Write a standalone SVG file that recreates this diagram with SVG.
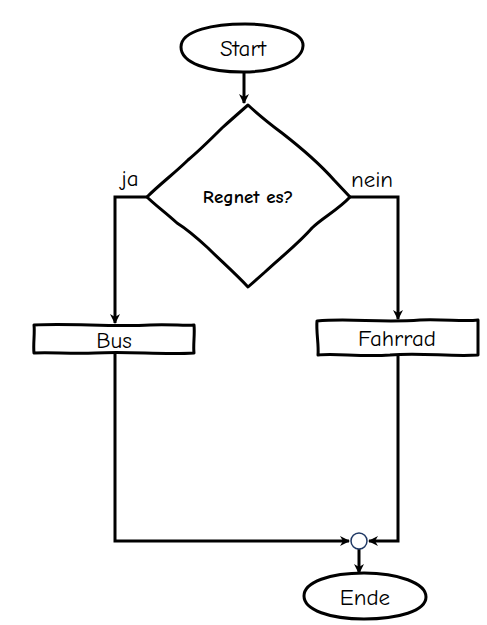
<svg xmlns="http://www.w3.org/2000/svg" width="487" height="625" viewBox="0 0 487 625">
<style>
.shape{fill:#fff;stroke:#000;stroke-width:3;stroke-linejoin:round}
.conn{fill:none;stroke:#000;stroke-width:3}
.t{font-family:"Comic Sans MS","Comic Neue","Liberation Sans",sans-serif;font-size:23px;fill:#000;text-anchor:middle}
.b{font-weight:bold;font-size:19px}
</style>
<defs>
<marker id="ah" markerWidth="10" markerHeight="10" refX="9" refY="5" orient="auto" markerUnits="userSpaceOnUse">
<path d="M0,0 L10,5 L0,10 L3,5 z" fill="#000"/>
</marker>
</defs>
<rect width="487" height="625" fill="#fff"/>
<g id="connectors">
<path class="conn" d="M244,73 L244,103" marker-end="url(#ah)"/>
<path class="conn" d="M147,197 L115,197 L115,323" marker-end="url(#ah)"/>
<path class="conn" d="M350,197 L398,197 L398,319" marker-end="url(#ah)"/>
<path class="conn" d="M115,354 L115,541 L349,541" marker-end="url(#ah)"/>
<path class="conn" d="M398,355 L398,541 L369,541" marker-end="url(#ah)"/>
<path class="conn" d="M359,549 L359,573" marker-end="url(#ah)"/>
</g>
<g id="start">
<path class="shape" d="M181,47 C181,30 215,24 245,24 C278,24 304,33 303,46 C302,61 276,72 243,72 C208,72 181,63 181,47 z"/>
<text class="t" x="243" y="56">Start</text>
</g>
<g id="decision">
<path class="shape" d="M248,105 C262,118 270,124 282,133 C300,147 318,162 334,180 L350,197 C338,210 322,218 312,228 C298,244 280,258 265,272 L248,287 C235,273 220,260 208,248 C195,236 185,228 177,223 C165,212 155,205 147,197 C160,184 176,172 188,160 C200,150 210,140 222,128 C232,119 240,112 248,105 z"/>
<text class="t b" x="248" y="203">Regnet es?</text>
</g>
<text class="t" x="130" y="186">ja</text>
<text class="t" x="372" y="187">nein</text>
<g id="bus">
<path class="shape" d="M34,325 C70,323 110,327 150,325 C170,324 185,326 194,325 C195,334 193,345 194,353 C160,355 130,351 95,353 C70,354 50,352 34,353 C33,344 35,333 34,325 z"/>
<text class="t" x="114" y="348">Bus</text>
</g>
<g id="fahrrad">
<path class="shape" d="M317,321 C350,318 380,323 420,320 C445,319 465,322 478,320 L478,355 C450,357 420,352 390,355 C360,357 335,353 318,355 C319,345 316,332 317,321 z"/>
<text class="t" x="397" y="346">Fahrrad</text>
</g>
<g id="merge">
<circle cx="359" cy="541" r="8" fill="#fff" stroke="#1f3864" stroke-width="1.5"/>
</g>
<g id="ende">
<path class="shape" d="M304,596 C304,582 330,573 364,573 C398,573 426,583 426,597 C426,611 398,619 364,619 C330,619 304,610 304,596 z"/>
<text class="t" x="365" y="605">Ende</text>
</g>
</svg>
